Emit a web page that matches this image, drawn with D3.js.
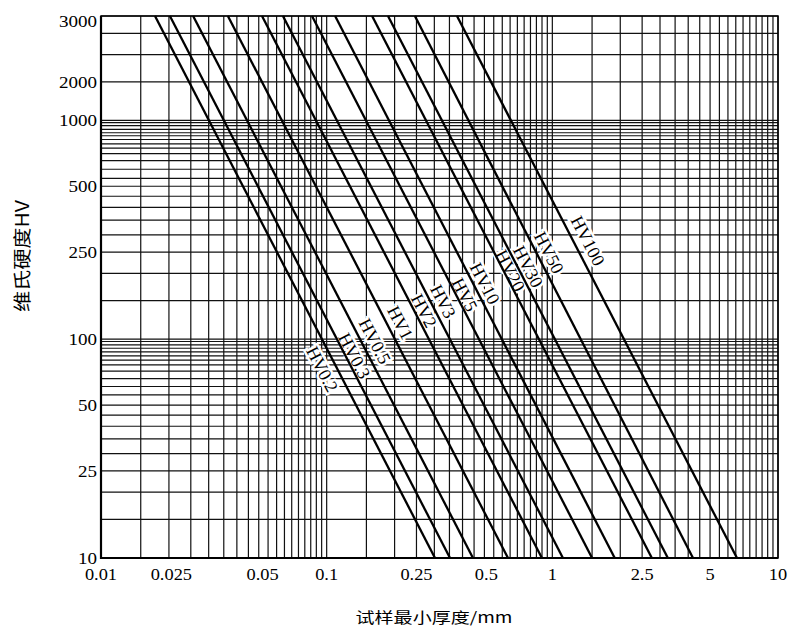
<!DOCTYPE html>
<html>
<head>
<meta charset="utf-8">
<script src="https://cdn.jsdelivr.net/npm/d3@7"></script>
<style>
  body { margin: 0; background: #fff; }
</style>
</head>
<body>
<svg id="chart" width="789" height="629"></svg>
<script>
// load series and the minimum thickness (mm) read at HV 10 and HV 3000
const loads = ["HV0.2", "HV0.3", "HV0.5", "HV1", "HV2", "HV3", "HV5", "HV10", "HV20", "HV30", "HV50", "HV100"];
const thickAtHV10 = [0.302, 0.352, 0.445, 0.636, 0.899, 1.114, 1.50, 1.89, 2.76, 3.25, 4.20, 6.58];
const thickAtHV3000 = [0.01735, 0.0202, 0.0256, 0.0365, 0.0517, 0.064, 0.0861, 0.109, 0.159, 0.187, 0.246, 0.378];
// hardness at which each label sits
const labelHV = [73, 84, 98, 119, 135, 149, 160, 180, 206, 215, 249, 282];

// grid lines
const xGridDecades = [0.01, 0.1, 1];
const xGridSteps = [1, 1.5, 2, 2.5, 3, 3.5, 4, 4.5, 5, 5.5, 6, 6.5, 7, 7.5, 8, 8.5, 9, 9.5];
const yGrid = [10, 15, 20, 25, 30, 35, 40, 45, 50, 55.7, 60.8, 66.1, 71.5, 76.3, 80.2, 83.9, 87.5, 90.9, 94.2, 97.6,
  100, 150, 200, 250, 300, 350, 400, 450, 500, 543, 598, 655, 705, 747, 781, 818, 851, 878, 909, 946, 976,
  1000, 1500, 2000, 2500, 3000];

// tick labels as printed
const xTickAt = [0.01, 0.0205, 0.052, 0.1, 0.25, 0.51, 1, 2.5, 5, 10];
const xTickText = ["0.01", "0.025", "0.05", "0.1", "0.25", "0.5", "1", "2.5", "5", "10"];
const yTickAt = [10, 25, 50, 100, 250, 500, 1000, 1500, 3000];
const yTickText = ["10", "25", "50", "100", "250", "500", "1000", "2000", "3000"];

const serif = "'Liberation Serif', 'Times New Roman', 'DejaVu Serif', serif";
const cjk = "'Noto Sans CJK SC', 'Noto Sans', sans-serif";

const svg = d3.select("#chart");
const pl = 101, pr = 778, pt = 16, pb = 558;

const x = d3.scaleLog().domain([0.01, 10]).range([pl, pr]);
const y = d3.scaleLog().domain([10, 3000]).range([pb, pt]);

const xGrid = [];
xGridDecades.forEach(d => xGridSteps.forEach(s => xGrid.push(d * s)));
xGrid.push(10);

const grid = svg.append("g").attr("stroke", "#111").attr("stroke-width", 1.2);
grid.selectAll(".vx").data(xGrid).enter().append("line")
  .attr("x1", d => x(d)).attr("x2", d => x(d))
  .attr("y1", pt).attr("y2", pb);
grid.selectAll(".hy").data(yGrid).enter().append("line")
  .attr("x1", pl).attr("x2", pr)
  .attr("y1", d => y(d)).attr("y2", d => y(d));

// frame
svg.append("rect")
  .attr("x", pl).attr("y", pt)
  .attr("width", pr - pl).attr("height", pb - pt)
  .attr("fill", "none").attr("stroke", "#000").attr("stroke-width", 1.5);
svg.append("path")
  .attr("d", `M${pl},${pt}V${pb}H${pr}`)
  .attr("fill", "none").attr("stroke", "#000").attr("stroke-width", 2.2);

const series = loads.map((name, i) => ({
  name,
  pts: [[thickAtHV10[i], 10], [thickAtHV3000[i], 3000]],
  hv: labelHV[i]
}));

// labels first so the curves stay on top of the white halo
const labelShift = [-15, 9, 14, 14, 10, 13, 9, 12, 7, 11, 13, 15];
svg.append("g").selectAll("text").data(series).enter().append("text")
  .each(function (d, i) {
    const x0 = x(d.pts[0][0]), y0 = y(d.pts[0][1]);
    const x1 = x(d.pts[1][0]), y1 = y(d.pts[1][1]);
    const ly = y(d.hv);
    const lx = x0 + (x1 - x0) * (ly - y0) / (y1 - y0) + labelShift[i];
    const ang = Math.atan2(y0 - y1, x0 - x1) * 180 / Math.PI;
    d3.select(this)
      .attr("transform", `translate(${lx},${ly}) rotate(${ang})`)
      .attr("text-anchor", "middle")
      .attr("dy", "0.35em")
      .attr("font-family", serif)
      .attr("font-size", 18)
      .attr("fill", "#000")
      .attr("stroke", "#fff").attr("stroke-width", 5)
      .attr("paint-order", "stroke")
      .text(d.name);
  });

const line = d3.line().x(d => x(d[0])).y(d => y(d[1]));
svg.append("g").selectAll("path").data(series).enter().append("path")
  .attr("d", d => line(d.pts))
  .attr("fill", "none").attr("stroke", "#000").attr("stroke-width", 2.3);

// tick labels
function widen(sel, k) {
  sel.each(function () {
    const w = this.getComputedTextLength();
    d3.select(this).attr("textLength", w * k).attr("lengthAdjust", "spacingAndGlyphs");
  });
}
svg.append("g").selectAll("text").data(xTickAt).enter().append("text")
  .attr("x", d => x(d)).attr("y", 580)
  .attr("text-anchor", "middle")
  .attr("font-family", serif).attr("font-size", 17)
  .text((d, i) => xTickText[i])
  .call(widen, 1.08);
svg.append("g").selectAll("text").data(yTickAt).enter().append("text")
  .attr("x", 97).attr("y", d => Math.max(y(d), 21) + 6)
  .attr("text-anchor", "end")
  .attr("font-family", serif).attr("font-size", 17)
  .text((d, i) => yTickText[i])
  .call(widen, 1.12);

// axis titles
svg.append("text")
  .attr("x", 434).attr("y", 623)
  .attr("text-anchor", "middle")
  .attr("font-family", cjk).attr("font-size", 15)
  .attr("textLength", 157).attr("lengthAdjust", "spacingAndGlyphs")
  .text("试样最小厚度/mm");
svg.append("text")
  .attr("transform", "translate(29,256) rotate(-90)")
  .attr("text-anchor", "middle")
  .attr("font-family", cjk).attr("font-size", 18)
  .attr("textLength", 112).attr("lengthAdjust", "spacingAndGlyphs")
  .text("维氏硬度HV");
</script>
</body>
</html>
